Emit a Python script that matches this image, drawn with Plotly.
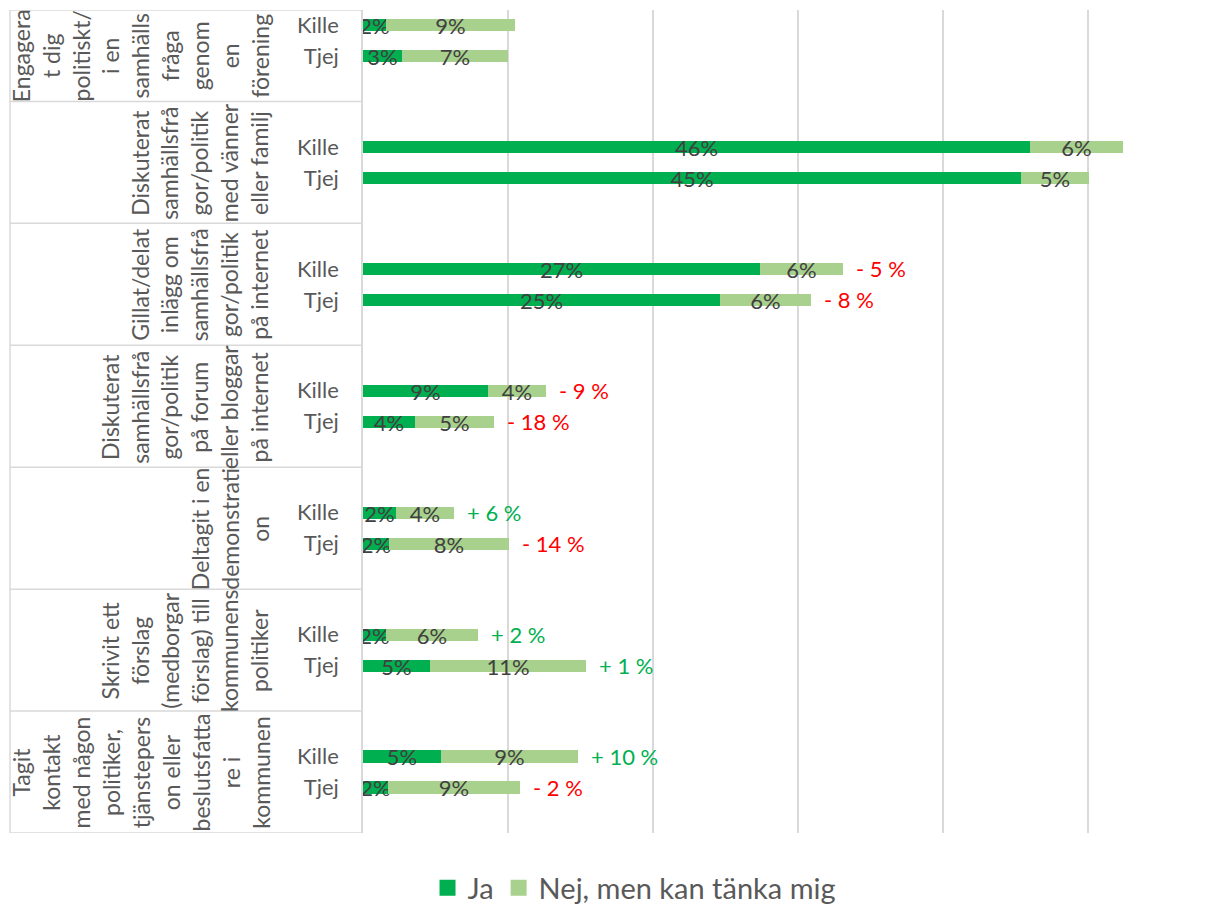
import plotly.graph_objects as go

categories = [
    "Engagera<br>t dig<br>politiskt/<br>i en<br>samhälls<br>fråga<br>genom<br>en<br>förening",
    "Diskuterat<br>samhällsfrå<br>gor/politik<br>med vänner<br>eller familj",
    "Gillat/delat<br>inlägg om<br>samhällsfrå<br>gor/politik<br>på internet",
    "Diskuterat<br>samhällsfrå<br>gor/politik<br>på forum<br>eller bloggar<br>på internet",
    "Deltagit i en<br>demonstrati<br>on",
    "Skrivit ett<br>förslag<br>(medborgar<br>förslag) till<br>kommunens<br>politiker",
    "Tagit<br>kontakt<br>med någon<br>politiker,<br>tjänstepers<br>on eller<br>beslutsfatta<br>re i<br>kommunen",
]
genders = ["Kille", "Tjej"]

ja_kille = [1.6, 46.0, 27.4, 8.6, 2.3, 1.6, 5.4]
ja_tjej = [2.7, 45.4, 24.6, 3.6, 1.8, 4.6, 1.7]
nej_kille = [8.9, 6.4, 5.7, 4.0, 4.0, 6.3, 9.4]
nej_tjej = [7.3, 4.7, 6.3, 5.4, 8.3, 10.8, 9.1]

change_kille = [None, None, "- 5 %", "- 9 %", "+ 6 %", "+ 2 %", "+ 10 %"]
change_tjej = [None, None, "- 8 %", "- 18 %", "- 14 %", "+ 1 %", "- 2 %"]

series_names = ["Ja", "Nej, men kan tänka mig"]
colors = ["#00B050", "#A9D18E"]

FONT = "Lato, Carlito, Open Sans, sans-serif"
TXT = "#404040"
LBL = "#595959"
GRID = "#D9D9D9"
FS = 22

off = 0.127
ypos, ticktext, ja_vals, nej_vals, changes = [], [], [], [], []
for g in range(len(categories)):
    ypos += [g - off, g + off]
    ticktext += genders
    ja_vals += [ja_kille[g], ja_tjej[g]]
    nej_vals += [nej_kille[g], nej_tjej[g]]
    changes += [change_kille[g], change_tjej[g]]

fig = go.Figure()
for name, vals, col in zip(series_names, [ja_vals, nej_vals], colors):
    fig.add_trace(go.Bar(
        x=vals, y=ypos, orientation="h", name=name, marker_color=col,
        marker_line_width=0, width=0.1, showlegend=False,
        texttemplate="%{x:.0f}%", textposition="inside",
        insidetextanchor="middle", textangle=0,
        insidetextfont=dict(color=TXT, size=FS, family=FONT),
        hoverinfo="skip",
    ))
# legend entries (square swatches)
for name, col in zip(series_names, colors):
    fig.add_trace(go.Scatter(
        x=[None], y=[None], mode="markers", name=name,
        marker=dict(symbol="square", size=16, color=col),
    ))

annotations = []
for y, j, n, c in zip(ypos, ja_vals, nej_vals, changes):
    if c:
        annotations.append(dict(
            x=j + n, y=y, xref="x", yref="y", text=c, showarrow=False,
            xanchor="left", xshift=11,
            font=dict(size=FS, family=FONT,
                      color="#FF0000" if c.startswith("-") else "#00B050"),
        ))

x_left = -0.4095
y_top = -0.25
x_lab = -0.101
for g, cat in enumerate(categories):
    yc = g if g > 0 else (y_top + 0.5) / 2
    annotations.append(dict(
        x=x_lab, y=yc, xref="paper", yref="y", text=cat, showarrow=False,
        textangle=-90, xanchor="right", yanchor="middle", align="center",
        font=dict(size=23, family=FONT, color=LBL),
    ))

shapes = [
    dict(type="line", xref="paper", yref="y", x0=x_left, x1=0, y0=y_top, y1=y_top,
         line=dict(color=GRID, width=1.5)),
    dict(type="line", xref="paper", yref="y", x0=x_left, x1=x_left, y0=y_top, y1=len(categories) - 0.5,
         line=dict(color=GRID, width=1.5)),
]
for g in range(len(categories)):
    shapes.append(dict(type="line", xref="paper", yref="y", x0=x_left, x1=0,
                       y0=g + 0.5, y1=g + 0.5, line=dict(color=GRID, width=1.5)))

fig.update_layout(
    width=1217, height=897,
    margin=dict(l=355, r=0, t=2, b=72),
    paper_bgcolor="white", plot_bgcolor="white",
    barmode="stack", bargap=0,
    uniformtext=dict(mode="show", minsize=FS),
    font=dict(family=FONT, color=TXT),
    xaxis=dict(range=[0, 59.45], dtick=10, showticklabels=False, showgrid=True,
               gridcolor=GRID, gridwidth=1.5, zeroline=False, showline=False),
    yaxis=dict(range=[len(categories) - 0.5, y_top], tickvals=ypos, ticktext=ticktext,
               tickfont=dict(size=FS, family=FONT, color=LBL), ticks="",
               ticklabelstandoff=18, showgrid=False, zeroline=False,
               showline=True, linecolor=GRID, linewidth=1.5),
    legend=dict(orientation="h", xref="paper", x=0.315, xanchor="center",
                yref="container", y=0.019, yanchor="middle",
                font=dict(size=29, family=FONT, color=LBL), itemwidth=30,
                traceorder="normal"),
    annotations=annotations,
    shapes=shapes,
)

fig.write_html("out.html")
